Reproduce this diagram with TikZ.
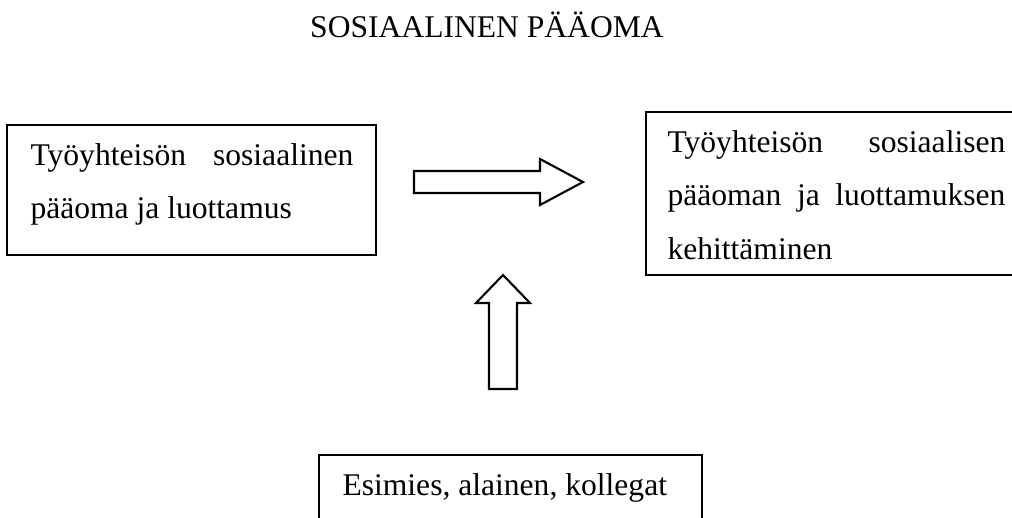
\documentclass[tikz,border=0pt]{standalone}
\usepackage{fontspec}
\setmainfont{Liberation Serif}
\tolerance=10000
\hyphenpenalty=10000
\begin{document}
\begin{tikzpicture}[x=0.38pt, y=-0.38pt,
    frame/.style={line width=0.8pt},
    linetext/.style={inner sep=0pt, anchor=base west, font=\fontsize{12}{20.5}\selectfont},
    boxtext/.style={linetext, align=justify},
    blockarrow/.style={line width=0.8pt, line join=miter}]
  \clip (0,0) rectangle (1012,517);
  \node[linetext, anchor=base] (title) at (487,37) {SOSIAALINEN PÄÄOMA};
  \draw[frame] (7,125) rectangle (376,255);
  \node[boxtext, text width=122.7pt] (lefttext) at (30,165) {Työyhteisön sosiaalinen\linebreak pääoma ja luottamus};
  \draw[frame] (646,112) rectangle (1026,275);
  \node[boxtext, text width=128.4pt] (righttext) at (667,152) {Työyhteisön sosiaalisen\linebreak pääoman ja luottamuksen\linebreak kehittäminen};
  \draw[blockarrow] (414,171) -- (540,171) -- (540,159) -- (583,182) -- (540,205) -- (540,193) -- (414,193) -- cycle;
  \draw[blockarrow] (489,389) -- (489,303) -- (476,303) -- (503,275) -- (530,303) -- (517,303) -- (517,389) -- cycle;
  \draw[frame] (319,455) rectangle (702,560);
  \node[linetext] (bottomtext) at (342,495) {Esimies, alainen, kollegat};
\end{tikzpicture}
\end{document}
